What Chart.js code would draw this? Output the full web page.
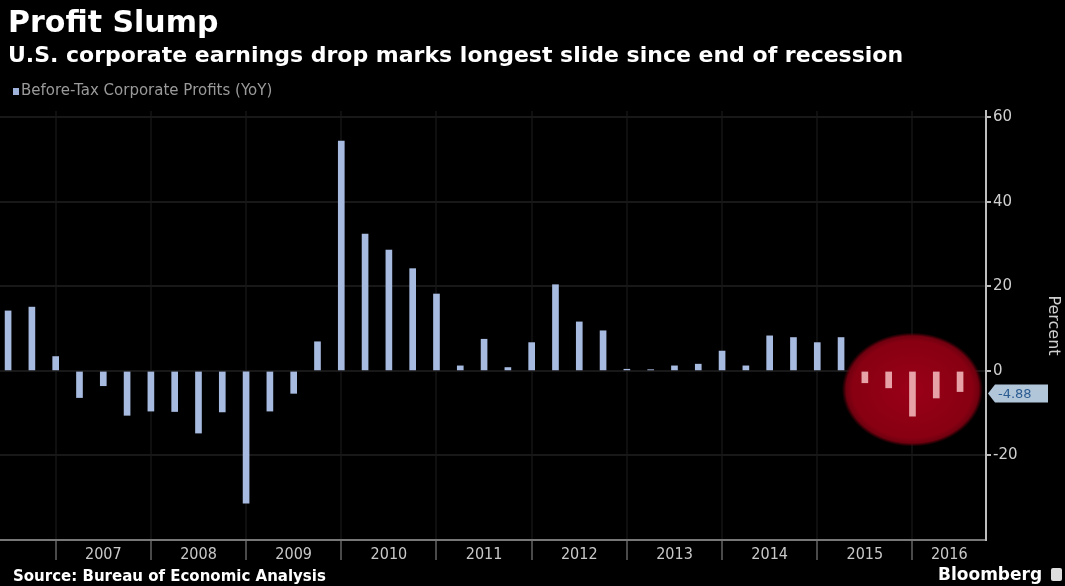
<!DOCTYPE html>
<html><head><meta charset="utf-8">
<script src="https://cdn.jsdelivr.net/npm/chart.js@4/dist/chart.umd.min.js"></script>
<style>
html,body{margin:0;padding:0;background:#000;}
#wrap{position:relative;width:1065px;height:586px;overflow:hidden;background:#000;}
canvas{position:absolute;left:0;top:0;}
.t{position:absolute;white-space:nowrap;color:#fff;font-family:"DejaVu Sans",sans-serif;line-height:1;}
</style></head><body>
<div id="wrap">
<canvas id="c" width="1065" height="586"></canvas>
<div class="t" style="left:8px;top:7px;font-size:30px;font-weight:bold;">Profit Slump</div>
<div class="t" style="left:8px;top:44px;font-size:22px;font-weight:bold;">U.S. corporate earnings drop marks longest slide since end of recession</div>
<div class="t" style="left:13px;top:83px;font-size:15px;color:#9a9a9a;"><span style="display:inline-block;width:6px;height:7px;background:#9fb2da;margin-right:2px"></span>Before-Tax Corporate Profits (YoY)</div>
<div class="t" style="left:13px;top:569px;font-size:15px;font-weight:bold;">Source: Bureau of Economic Analysis</div>
<div class="t" style="left:938px;top:566px;font-size:17px;font-weight:bold;">Bloomberg</div>
<div style="position:absolute;left:1051px;top:568px;width:11px;height:13px;background:#ddd;border-radius:2px;"></div>
</div>
<script>
const quarters = [
 '2006 Q2','2006 Q3','2006 Q4',
 '2007 Q1','2007 Q2','2007 Q3','2007 Q4',
 '2008 Q1','2008 Q2','2008 Q3','2008 Q4',
 '2009 Q1','2009 Q2','2009 Q3','2009 Q4',
 '2010 Q1','2010 Q2','2010 Q3','2010 Q4',
 '2011 Q1','2011 Q2','2011 Q3','2011 Q4',
 '2012 Q1','2012 Q2','2012 Q3','2012 Q4',
 '2013 Q1','2013 Q2','2013 Q3','2013 Q4',
 '2014 Q1','2014 Q2','2014 Q3','2014 Q4',
 '2015 Q1','2015 Q2','2015 Q3','2015 Q4',
 '2016 Q1','2016 Q2'
];
const profitsYoY = [
 14.2, 15.1, 3.4,
 -6.3, -3.5, -10.5, -9.5,
 -9.6, -14.7, -9.7, -31.3,
 -9.5, -5.3, 6.9, 54.4,
 32.4, 28.6, 24.2, 18.2,
 1.2, 7.5, 0.8, 6.7,
 20.4, 11.6, 9.5, 0.4,
 0.3, 1.2, 1.6, 4.7,
 1.2, 8.3, 7.9, 6.7,
 7.9, -2.8, -4.0, -10.7,
 -6.4, -4.88
];
const yearLabels = ['2007','2008','2009','2010','2011','2012','2013','2014','2015','2016'];
const yTickValues = [-20, 0, 20, 40, 60];
const highlightFrom = '2015 Q2';
const lastValueText = '-4.88';

const X_MIN = -0.34, X_MAX = 41.09;
const HI_FROM = quarters.indexOf(highlightFrom);
const LAST = profitsYoY.length - 1;

const tickSpec = [];
yearLabels.forEach(y => {
  const s = quarters.indexOf((+y - 1) + ' Q4');
  const e0 = quarters.indexOf(y + ' Q4');
  const e = e0 < 0 ? s + 4 : e0;
  tickSpec.push({value: s, label: '', boundary: true});
  tickSpec.push({value: (Math.max(s, X_MIN) + Math.min(e, X_MAX)) / 2, label: y, boundary: false});
});

const halo = {
  id: 'halo',
  beforeDatasetsDraw(chart) {
    const {ctx, scales: {x, y}} = chart;
    const x0 = x.getPixelForValue(HI_FROM), x1 = x.getPixelForValue(LAST);
    const cx = (x0 + x1) / 2, rx = (x1 - x0) / 2 + 23;
    const cy = y.getPixelForValue(-4.4), ry = 57;
    ctx.save();
    ctx.translate(cx, cy);
    ctx.scale(rx / ry, 1);
    const g = ctx.createRadialGradient(0, 0, 0, 0, 0, ry);
    g.addColorStop(0, '#9a0018');
    g.addColorStop(0.85, '#880012');
    g.addColorStop(0.94, '#70000f');
    g.addColorStop(1, 'rgba(90,0,10,0)');
    ctx.fillStyle = g;
    ctx.beginPath(); ctx.arc(0, 0, ry, 0, Math.PI * 2); ctx.fill();
    ctx.restore();
  }
};
const lastLabel = {
  id: 'lastLabel',
  afterDraw(chart) {
    const {ctx, chartArea, scales: {y}} = chart;
    const yv = y.getPixelForValue(profitsYoY[LAST]) + 2;
    const x0 = chartArea.right + 2;
    ctx.save();
    ctx.fillStyle = '#b2c6da';
    ctx.beginPath();
    ctx.moveTo(x0, yv); ctx.lineTo(x0 + 7, yv - 9); ctx.lineTo(x0 + 60, yv - 9);
    ctx.lineTo(x0 + 60, yv + 9); ctx.lineTo(x0 + 7, yv + 9); ctx.closePath(); ctx.fill();
    ctx.fillStyle = '#2b5c92';
    ctx.font = '13px "DejaVu Sans"';
    ctx.textBaseline = 'middle'; ctx.textAlign = 'left';
    ctx.fillText(lastValueText, x0 + 10, yv + 1);
    ctx.restore();
  }
};

new Chart(document.getElementById('c'), {
  type: 'bar',
  data: {
    labels: quarters,
    datasets: [{
      label: 'Before-Tax Corporate Profits (YoY)',
      data: profitsYoY.map((v, i) => ({x: i, y: v})),
      backgroundColor: c => c.dataIndex >= HI_FROM ? '#e6a2a6' : '#a7bbe0',
      barThickness: 6,
      borderWidth: 0
    }]
  },
  options: {
    responsive: false,
    animation: false,
    layout: {padding: {top: 111, bottom: 20, left: 0, right: 0}},
    plugins: {legend: {display: false}, tooltip: {enabled: false}},
    scales: {
      x: {
        type: 'linear', min: X_MIN, max: X_MAX, offset: false,
        afterBuildTicks: s => { s.ticks = tickSpec.map(t => ({value: t.value})); },
        afterFit: s => { s.height = 26; },
        ticks: {
          autoSkip: false, maxRotation: 0, minRotation: 0, padding: -15,
          color: '#c8c8c8',
          font: {family: '"Liberation Sans Narrow","DejaVu Sans Condensed",sans-serif', size: 16},
          callback: (v, i) => tickSpec[i] ? tickSpec[i].label : ''
        },
        grid: {
          offset: false, drawOnChartArea: true, lineWidth: 2, tickWidth: 2, tickLength: 20,
          color: c => (tickSpec[c.index] && tickSpec[c.index].boundary) ? '#0f0f0f' : 'rgba(0,0,0,0)',
          tickColor: c => (tickSpec[c.index] && tickSpec[c.index].boundary) ? '#4a4a4a' : 'rgba(0,0,0,0)'
        },
        border: {color: '#777', width: 2}
      },
      y: {
        position: 'right', min: -40, max: 61.5,
        afterBuildTicks: s => { s.ticks = yTickValues.map(v => ({value: v})); },
        afterFit: s => { s.width = 79; },
        ticks: {color: '#cfcfcf', padding: 2, font: {family: '"DejaVu Sans",sans-serif', size: 15}},
        grid: {color: '#181818', lineWidth: 2, tickColor: '#bdbdbd', tickLength: 5, tickWidth: 2},
        border: {color: '#bdbdbd', width: 2},
        title: {display: true, text: 'Percent', color: '#cfcfcf',
                font: {family: '"DejaVu Sans",sans-serif', size: 16}, padding: {top: 2, bottom: 2}}
      }
    }
  },
  plugins: [halo, lastLabel]
});
</script>
</body></html>
